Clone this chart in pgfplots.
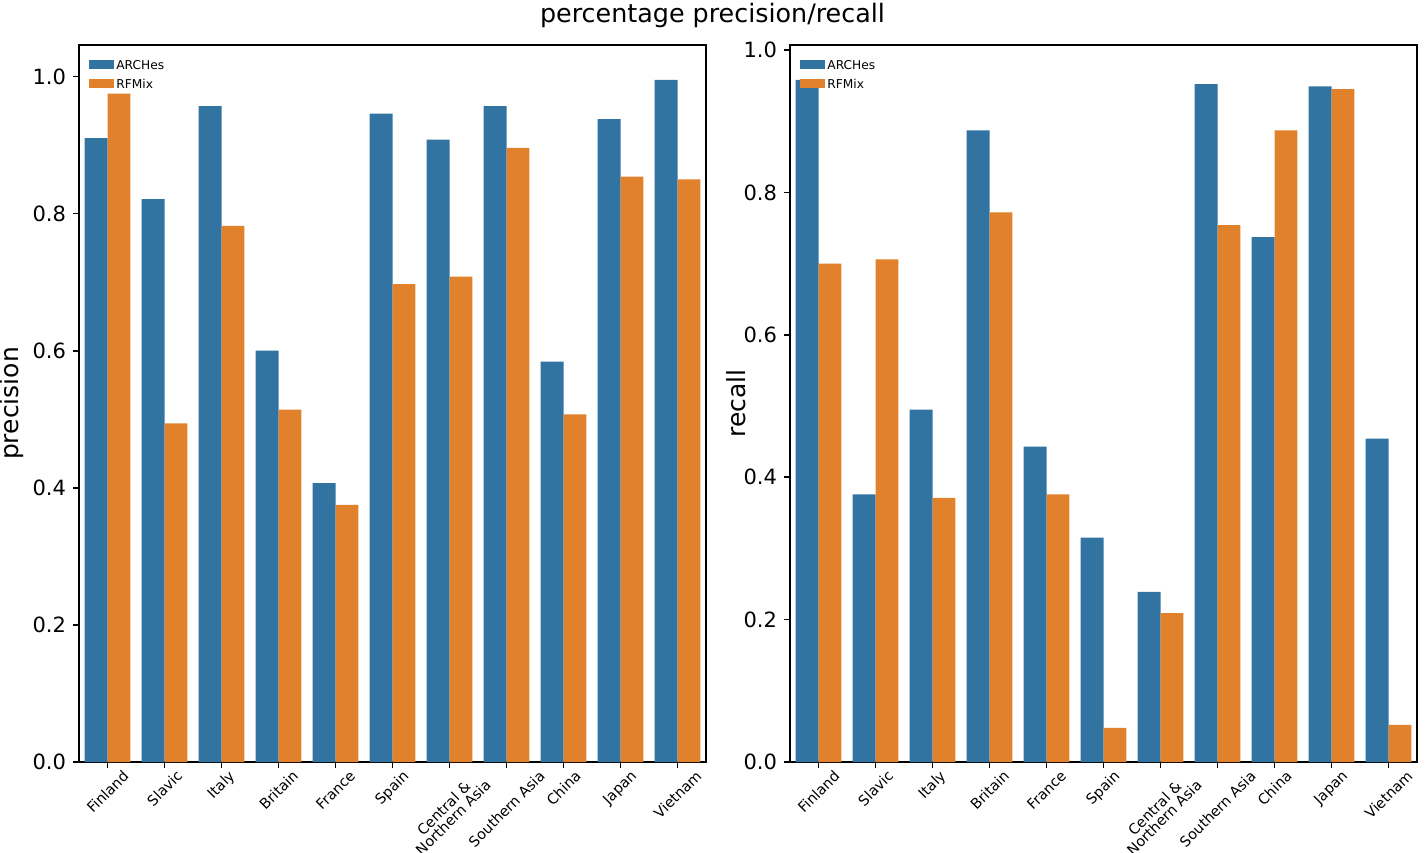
\documentclass[border=0pt]{standalone}
\usepackage{fontspec}
\setmainfont{DejaVu Sans}
\usepackage{graphicx}
\usepackage{pgfplots}
\usepackage{pgfplotstable}
\pgfplotsset{compat=1.18}

\definecolor{sbblue}{HTML}{3274A1}
\definecolor{sborange}{HTML}{E1812C}

% precision per population
\pgfplotstableread{
idx arches rfmix
0  0.910 0.975
1  0.821 0.494
2  0.957 0.782
3  0.600 0.514
4  0.407 0.375
5  0.946 0.697
6  0.908 0.708
7  0.957 0.896
8  0.584 0.507
9  0.938 0.854
10 0.995 0.850
}\prectable

% recall per population
\pgfplotstableread{
idx arches rfmix
0  0.958 0.700
1  0.376 0.706
2  0.495 0.371
3  0.887 0.772
4  0.443 0.376
5  0.315 0.048
6  0.239 0.209
7  0.952 0.754
8  0.737 0.887
9  0.949 0.945
10 0.454 0.052
}\rectable

\newcommand{\rl}[1]{\rotatebox{45}{#1}}
\newcommand{\twol}[2]{{\renewcommand{\arraystretch}{0.7}\begin{tabular}{@{}c@{}}#1\\[-0.5pt]#2\end{tabular}}}

\pgfplotsset{
  panel/.style={
    scale only axis,
    width=313.5pt, height=358.5pt,
    anchor=south west,
    axis line style={line width=0.8pt},
    xmin=-0.5, xmax=10.5, ymin=0,
    xtick={0,...,10},
    xticklabels={\rl{Finland},\rl{Slavic},\rl{Italy},\rl{Britain},\rl{France},\rl{Spain},
      \rl{\twol{Central \&}{Northern Asia}},\rl{Southern Asia},\rl{China},\rl{Japan},\rl{Vietnam}},
    xticklabel style={anchor=north, font=\fontsize{7.2}{8.2}\selectfont, inner sep=0pt, yshift=-0.5pt},
    ytick={0,0.2,0.4,0.6,0.8,1.0},
    yticklabel style={font=\fontsize{10.5}{12}\selectfont},
    /pgf/number format/.cd, fixed, fixed zerofill, precision=1, assume math mode=true, /pgfplots/.cd,
    tick pos=left, tick align=outside, major tick length=3pt,
    tick style={line width=0.8pt, black},
    ybar, bar width=0.4,
    legend cell align=left,
    legend image code/.code={\fill[##1] (0pt,-2.25pt) rectangle (12.5pt,2.25pt);},
    legend style={at={(0,1)}, anchor=north west, xshift=5pt, yshift=-6.5pt,
      draw=none, fill=none, inner sep=0pt,
      font=\fontsize{6.1}{7}\selectfont,
      nodes={inner sep=1pt, text height=4.4pt, text depth=0pt},
      row sep=3.2pt,
      /tikz/every even column/.append style={column sep=8pt}},
  }
}

\begin{document}
\begin{tikzpicture}
\useasboundingbox (0,0) rectangle (712.5pt,426pt);

\begin{axis}[panel, at={(39.5pt,45pt)}, ymax=1.046, ylabel={precision},
  every axis y label/.style={at={(axis description cs:-0.107,0.5)}, rotate=90, anchor=center,
    font=\fontsize{12.5}{14}\selectfont}]
\addplot[fill=sbblue, draw=none, bar shift=-0.2] table[x=idx, y=arches] {\prectable};
\addplot[fill=sborange, draw=none, bar shift=0.2] table[x=idx, y=rfmix] {\prectable};
\legend{ARCHes, RFMix}
\end{axis}

\begin{axis}[panel, at={(395pt,45pt)}, ymax=1.007, ylabel={recall},
  every axis y label/.style={at={(axis description cs:-0.086,0.5)}, rotate=90, anchor=center,
    font=\fontsize{12.5}{14}\selectfont}]
\addplot[fill=sbblue, draw=none, bar shift=-0.2] table[x=idx, y=arches] {\rectable};
\addplot[fill=sborange, draw=none, bar shift=0.2] table[x=idx, y=rfmix] {\rectable};
\legend{ARCHes, RFMix}
\end{axis}

\node[font=\fontsize{12.7}{15}\selectfont] at (356.25pt,418.5pt) {percentage precision/recall};
\end{tikzpicture}
\end{document}
